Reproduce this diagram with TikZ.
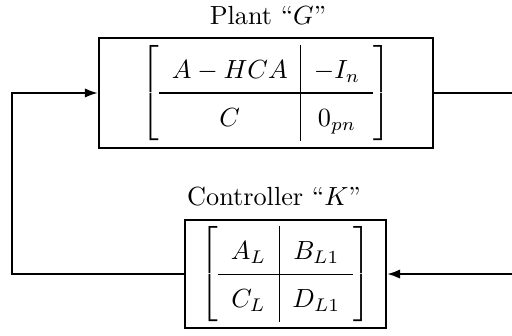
\documentclass[tikz,border=0pt]{standalone}
\usepackage{amsmath}
\usepackage{tikz}
\usetikzlibrary{arrows.meta,positioning}
\renewcommand{\arraystretch}{1.5}

\begin{document}
\begin{tikzpicture}[block/.style={draw,thick,inner sep=0pt},
    flow/.style={-{Latex[length=5pt,width=3.6pt]},thick}]
    \useasboundingbox (0,0) rectangle (6.861,4.489);
    \coordinate (left) at (0.161,0);
    \coordinate (right) at (6.861,0);
    \node[block,minimum width=4.476cm,minimum height=1.474cm] (plant) at (3.564,3.243)
      {$\left[\begin{array}{c|c} A-HCA & -I_n \\ \hline C & 0_{pn} \end{array}\right]$};
    \node[block,minimum width=2.693cm,minimum height=1.447cm] (ctrl) at (3.826,0.817)
      {$\left[\begin{array}{c|c} A_L & B_{L1} \\ \hline C_L & D_{L1} \end{array}\right]$};
    \node[anchor=base,inner sep=0pt] (plantlbl) at (3.591,4.167) {Plant “$G$”};
    \node[anchor=base,inner sep=0pt] (ctrllbl) at (3.672,1.742) {Controller “$K$”};
    \draw[thick] (plant.east) -- (plant.east -| right);
    \draw[flow] (ctrl.east -| right) -- (ctrl.east);
    \draw[flow] (ctrl.west) -- (ctrl.west -| left) -- (plant.west -| left) -- (plant.west);
  \end{tikzpicture}
\end{document}
